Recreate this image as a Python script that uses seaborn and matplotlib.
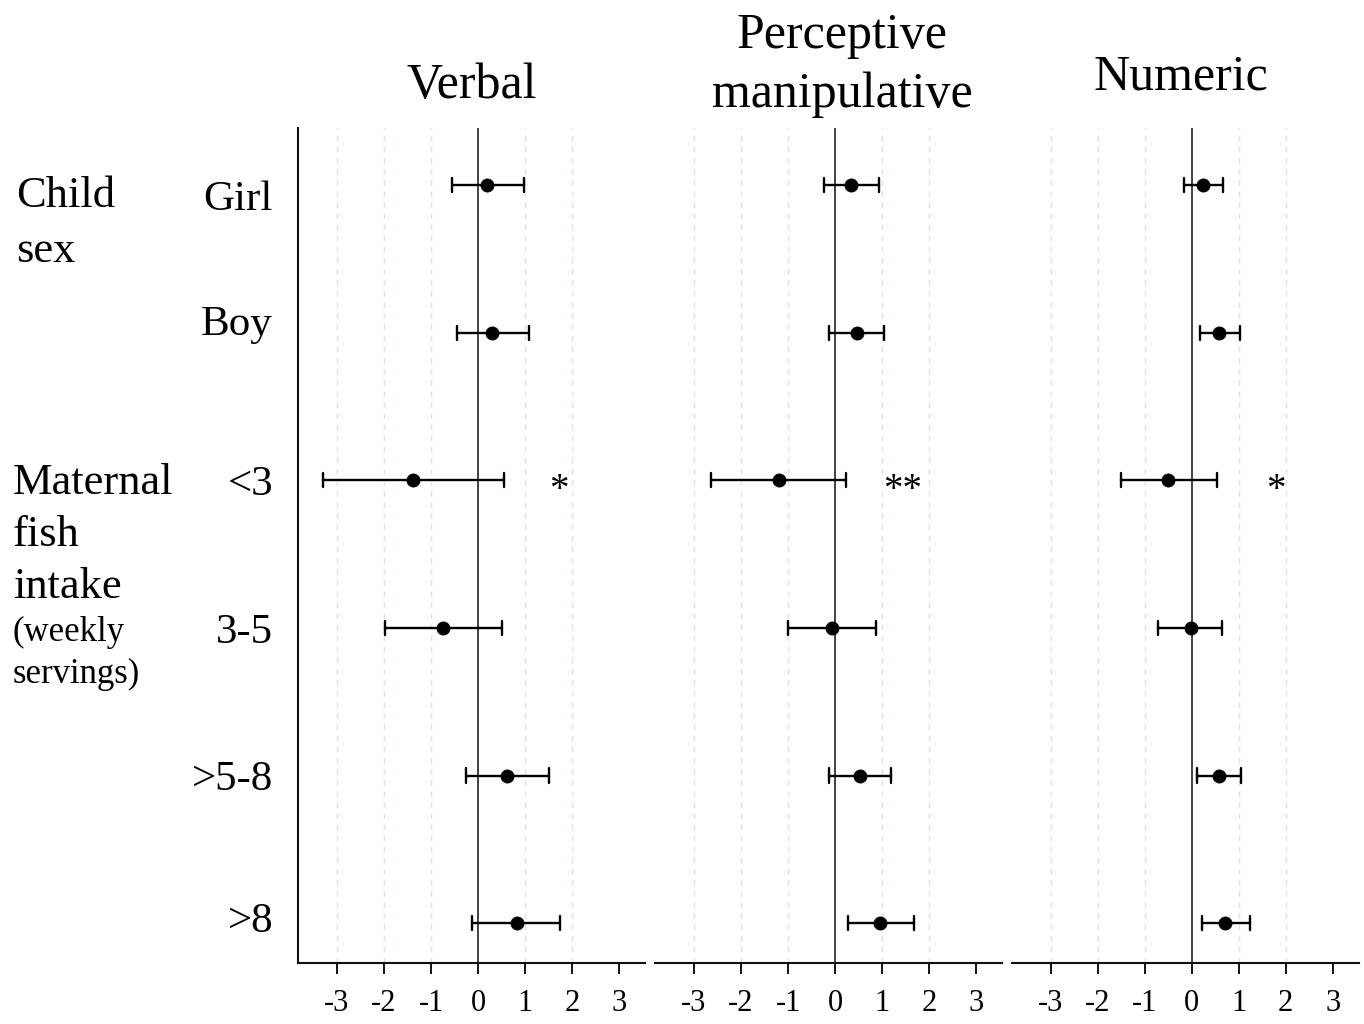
import numpy as np
import pandas as pd
import matplotlib
matplotlib.use("Agg")
import matplotlib.pyplot as plt
import matplotlib.transforms as mtransforms
import seaborn as sns

# ---------------- data ----------------
rows = ["Girl", "Boy", "<3", "3-5", ">5-8", ">8"]
panel_titles = ["Verbal", "Perceptive\nmanipulative", "Numeric"]

verbal_est = [0.20, 0.30, -1.38, -0.75, 0.61, 0.82]
verbal_lo = [-0.55, -0.45, -3.30, -1.97, -0.26, -0.13]
verbal_hi = [0.98, 1.09, 0.55, 0.50, 1.50, 1.75]

percep_est = [0.34, 0.46, -1.19, -0.07, 0.52, 0.96]
percep_lo = [-0.24, -0.12, -2.63, -1.00, -0.13, 0.27]
percep_hi = [0.94, 1.03, 0.23, 0.88, 1.19, 1.68]

numeric_est = [0.24, 0.58, -0.50, -0.01, 0.58, 0.71]
numeric_lo = [-0.17, 0.17, -1.51, -0.71, 0.11, 0.22]
numeric_hi = [0.67, 1.02, 0.55, 0.65, 1.06, 1.24]

sig_row = "<3"
sig_marks = ["*", "**", "*"]
sig_x = [1.71, 1.44, 1.79]

xticks = [-3, -2, -1, 0, 1, 2, 3]
xtick_labels = ["-3", "-2", "-1", "0", "1", "2", "3"]
grid_x = [-3, -2, -1, 1, 2]

group1_lines = ["Child", "sex"]
group2_lines = ["Maternal", "fish", "intake"]
group2_sub = ["(weekly", "servings)"]

# ---------------- style ----------------
sns.set_style("white")
plt.rcParams["font.family"] = ["Liberation Serif", "DejaVu Serif"]
plt.rcParams["axes.unicode_minus"] = False
plt.rcParams["text.color"] = "black"
plt.rcParams["xtick.color"] = "black"
plt.rcParams["ytick.color"] = "black"
plt.rcParams["axes.labelcolor"] = "black"

W, H = 1364, 1024
fig = plt.figure(figsize=(W / 100, H / 100), dpi=100)


def fx(px):
    return px / W


def fy(py):
    return 1 - py / H


ax_left_px = [298, 655, 1011.5]
ax_w_px = 347
ax_top_px, ax_bot_px = 128, 963

series = [
    (verbal_est, verbal_lo, verbal_hi),
    (percep_est, percep_lo, percep_hi),
    (numeric_est, numeric_lo, numeric_hi),
]

axes = []
for i, (est, lo, hi) in enumerate(series):
    ax = fig.add_axes([fx(ax_left_px[i]), fy(ax_bot_px), ax_w_px / W,
                       (ax_bot_px - ax_top_px) / H])
    axes.append(ax)
    df = pd.DataFrame({
        "row": rows * 3,
        "value": list(lo) + list(est) + list(hi),
    })
    for gx in grid_x:
        ax.axvline(gx, color="#d6e6ea", lw=1.0, linestyle=(0, (4, 4)), zorder=0)
    ax.axvline(0, color="#333333", lw=1.3, zorder=1)
    sns.pointplot(
        data=df, x="value", y="row", order=rows,
        estimator="median", errorbar=lambda v: (v.min(), v.max()),
        linestyle="none", marker="o", color="black",
        markersize=9.5, markeredgewidth=0.5, capsize=0.095,
        err_kws={"linewidth": 1.7, "color": "black"},
        ax=ax, zorder=3,
    )
    ax.set_xlim(-3.83, 3.55)
    ax.set_ylim(5.27, -0.386)
    ax.set_xlabel("")
    ax.set_ylabel("")
    ax.set_xticks(xticks)
    ax.set_xticklabels(xtick_labels)
    ax.grid(False)
    ax.tick_params(axis="x", which="major", length=8, width=1.3, pad=11,
                   labelsize=22, direction="out", color="black", bottom=True)
    for s in ["top", "right"]:
        ax.spines[s].set_visible(False)
    ax.spines["bottom"].set_linewidth(1.5)
    ax.spines["bottom"].set_color("#111111")
    if i == 0:
        ax.spines["left"].set_linewidth(1.5)
        ax.spines["left"].set_color("#111111")
        ax.tick_params(axis="y", length=0, pad=18, labelsize=31)
        offsets_px = {"Girl": 10, "Boy": -12, ">8": -6}
        for lab in ax.get_yticklabels():
            d = offsets_px.get(lab.get_text(), 0)
            if d:
                lab.set_transform(lab.get_transform() + mtransforms.ScaledTranslation(
                    0, -d / 100, fig.dpi_scale_trans))
    else:
        ax.spines["left"].set_visible(False)
        ax.tick_params(axis="y", length=0, labelleft=False)

    ax.annotate(sig_marks[i], xy=(sig_x[i], rows.index(sig_row)),
                xytext=(0, -14.5), textcoords="offset points",
                ha="center", va="baseline", fontsize=28)

# ---------------- titles ----------------
fig.text(fx(472), fy(98), "Verbal", ha="center", va="baseline", fontsize=36)
fig.text(fx(842), fy(48), "Perceptive", ha="center", va="baseline", fontsize=36)
fig.text(fx(842), fy(107), "manipulative", ha="center", va="baseline", fontsize=36)
fig.text(fx(1181), fy(89), "Numeric", ha="center", va="baseline", fontsize=36)

# ---------------- group labels ----------------
for txt, base in zip(group1_lines, [207, 262]):
    fig.text(fx(16), fy(base), txt, ha="left", va="baseline", fontsize=32)
for txt, base in zip(group2_lines, [494, 546, 598]):
    fig.text(fx(13), fy(base), txt, ha="left", va="baseline", fontsize=32)
for txt, base in zip(group2_sub, [641, 683]):
    fig.text(fx(13), fy(base), txt, ha="left", va="baseline", fontsize=25)

fig.savefig("out.png", dpi=100)
